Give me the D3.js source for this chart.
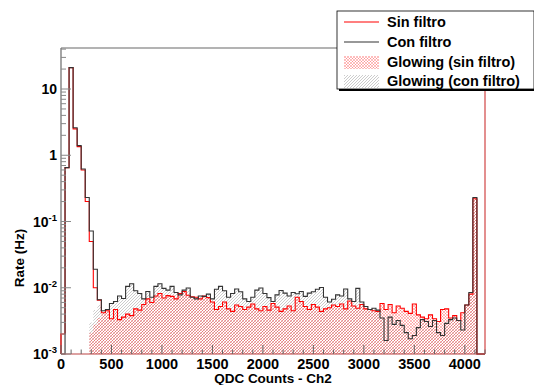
<!DOCTYPE html>
<html>
<head>
<meta charset="utf-8">
<script src="https://cdn.jsdelivr.net/npm/d3@7/dist/d3.min.js"></script>
<style>
  html, body { margin: 0; padding: 0; background: #fff; }
  svg { display: block; }
  text { font-family: "Liberation Sans", Arial, Helvetica, sans-serif; font-weight: bold; fill: #000; }
</style>
</head>
<body>
<svg id="chart" width="534" height="385"></svg>
<script>
// QDC spectrum, channel 2: 105 bins of 40 counts from 0 to 4200
const binWidth = 40;
const xMin = 0, xMax = 4200;
const yMin = 1e-3, yMax = 41.6;

// Rate (Hz) per bin, without filter
const sinFiltro = [
  0.002, 0.65, 21, 2.5, 1.35, 0.6, 0.2, 0.05, 0.01, 0.0065,
  0.0042, 0.0045, 0.0034, 0.0047, 0.0033, 0.0036, 0.004, 0.0038, 0.0048, 0.0046,
  0.0056, 0.0068, 0.006, 0.0075, 0.0082, 0.007, 0.0076, 0.0074, 0.0068, 0.0082,
  0.0088, 0.0077, 0.0073, 0.0072, 0.0068, 0.0075, 0.0071, 0.0061, 0.0047, 0.0052,
  0.0061, 0.0048, 0.0044, 0.0055, 0.0052, 0.0047, 0.0051, 0.0057, 0.0048, 0.0045,
  0.0052, 0.0046, 0.0058, 0.0051, 0.0044, 0.0048, 0.0053, 0.0045, 0.0072, 0.0062,
  0.0052, 0.0047, 0.0056, 0.0051, 0.0044, 0.0048, 0.005, 0.0055, 0.0052, 0.0057,
  0.0048, 0.0063, 0.0053, 0.0049, 0.0056, 0.0048, 0.0047, 0.0045, 0.0044, 0.0058,
  0.0047, 0.0056, 0.0042, 0.0053, 0.0049, 0.0044, 0.0041, 0.0057, 0.0039, 0.0036,
  0.0034, 0.0039, 0.0034, 0.0031, 0.0047, 0.0048, 0.0035, 0.0038, 0.0032, 0.0042,
  0.0055, 0.008, 0.22, 0, 0
];

// Rate (Hz) per bin, with filter
const conFiltro = [
  0, 0.65, 21, 2.6, 1.4, 0.62, 0.23, 0.072, 0.019, 0.0066,
  0.0045, 0.0047, 0.0058, 0.0062, 0.0075, 0.0069, 0.0105, 0.0115, 0.009, 0.0082,
  0.0068, 0.0088, 0.0072, 0.0105, 0.0115, 0.0098, 0.0092, 0.0105, 0.0085, 0.0078,
  0.0092, 0.0099, 0.0072, 0.0068, 0.0075, 0.0074, 0.008, 0.0068, 0.0095, 0.0105,
  0.009, 0.0072, 0.0082, 0.0096, 0.0087, 0.0068, 0.0062, 0.0072, 0.0092, 0.0099,
  0.0082, 0.0071, 0.0062, 0.0078, 0.0091, 0.0083, 0.0075, 0.0085, 0.0081, 0.0088,
  0.0074, 0.0083, 0.0087, 0.0095, 0.0101, 0.0072, 0.0061, 0.0067, 0.0078, 0.0075,
  0.0096, 0.0068, 0.0062, 0.0098, 0.0061, 0.0052, 0.0047, 0.0049, 0.0046, 0.0035,
  0.0016, 0.0036, 0.0028, 0.0032, 0.0027, 0.0021, 0.0017, 0.0019, 0.0025, 0.0033,
  0.0031, 0.0026, 0.0032, 0.0021, 0.0019, 0.0029, 0.0033, 0.0035, 0.0032, 0.0023,
  0.0055, 0.0085, 0.23, 0, 0
];

// Glowing component: first bins of its own, then it follows the full spectrum
const glowFirstBin = 7, glowLastBin = 102;
const glowSinHead = [0.0021, 0.0028, 0.0035];
const glowConHead = [0.003, 0.0046, 0.0055];

const xTicks = [0, 500, 1000, 1500, 2000, 2500, 3000, 3500, 4000];
const yTicks = [1e-3, 1e-2, 1e-1, 1, 10];
const yTickLabels = [["10", "-3"], ["10", "-2"], ["10", "-1"], ["1", ""], ["10", ""]];
const legendLabels = ["Sin filtro", "Con filtro", "Glowing (sin filtro)", "Glowing (con filtro)"];

const glowSin = glowSinHead.concat(sinFiltro.slice(glowFirstBin + glowSinHead.length, glowLastBin + 1));
const glowCon = glowConHead.concat(conFiltro.slice(glowFirstBin + glowConHead.length, glowLastBin + 1));

const svg = d3.select("#chart");
const frame = { left: 61, right: 485, top: 48, bottom: 354 };

const x = d3.scaleLinear().domain([xMin, xMax]).range([frame.left, frame.right]);
const y = d3.scaleLog().domain([yMin, yMax]).range([frame.bottom, frame.top]).clamp(true);
const yv = v => y(v > yMin ? v : yMin);

// hatch patterns
const defs = svg.append("defs");
const pRed = defs.append("pattern").attr("id", "hatchRed")
  .attr("patternUnits", "userSpaceOnUse").attr("width", 3).attr("height", 3);
pRed.append("path").attr("d", "M-1,1 L1,-1 M0,3 L3,0 M2,4 L4,2 M-1,2 L1,4 M0,0 L3,3 M2,-1 L4,1")
  .attr("stroke", "#f22").attr("stroke-opacity", 0.75).attr("stroke-width", 0.4).attr("fill", "none");
const pGrey = defs.append("pattern").attr("id", "hatchGrey")
  .attr("patternUnits", "userSpaceOnUse").attr("width", 3).attr("height", 3);
pGrey.append("path").attr("d", "M-1,1 L1,-1 M0,3 L3,0 M2,4 L4,2")
  .attr("stroke", "#8c8c8c").attr("stroke-width", 0.45).attr("fill", "none");

// step outline of a histogram
function stepLine(vals, first) {
  let d = `M${x(first * binWidth)},${y(yMin)}`;
  vals.forEach((v, i) => {
    const x0 = x((first + i) * binWidth), x1 = x((first + i + 1) * binWidth);
    d += `L${x0},${yv(v)}L${x1},${yv(v)}`;
  });
  d += `L${x((first + vals.length) * binWidth)},${y(yMin)}`;
  return d;
}

// glowing areas
svg.append("path").attr("d", stepLine(glowCon, glowFirstBin) + "Z")
  .attr("fill", "url(#hatchGrey)").attr("stroke", "none");
svg.append("path").attr("d", stepLine(glowSin, glowFirstBin) + "Z")
  .attr("fill", "url(#hatchRed)").attr("stroke", "none");

// frame top/left
svg.append("line").attr("x1", frame.left).attr("x2", frame.right).attr("y1", frame.top).attr("y2", frame.top)
  .attr("stroke", "#9a9a9a").attr("stroke-width", 1.3);
svg.append("line").attr("x1", frame.left).attr("x2", frame.left).attr("y1", frame.top).attr("y2", frame.bottom)
  .attr("stroke", "#6a6a6a").attr("stroke-width", 1.2);

// full spectra
svg.append("path").attr("d", stepLine(sinFiltro, 0))
  .attr("fill", "none").attr("stroke", "#f00").attr("stroke-width", 1.1);
svg.append("path").attr("d", stepLine(conFiltro, 0))
  .attr("fill", "none").attr("stroke", "#333").attr("stroke-width", 1.1);
// right frame edge carries the red spectrum colour
svg.append("line").attr("x1", frame.right).attr("x2", frame.right).attr("y1", frame.top).attr("y2", frame.bottom)
  .attr("stroke", "#c33").attr("stroke-width", 1.1);
svg.append("line").attr("x1", frame.left).attr("x2", frame.right).attr("y1", frame.bottom).attr("y2", frame.bottom)
  .attr("stroke", "#b44").attr("stroke-width", 1.1);

// x axis ticks
const xMinor = d3.range(0, xMax + 1, 100);
svg.append("g").selectAll("line").data(xMinor).join("line")
  .attr("x1", d => x(d)).attr("x2", d => x(d))
  .attr("y1", frame.bottom).attr("y2", d => frame.bottom - (d % 500 === 0 ? 9 : 4.5))
  .attr("stroke", "#666").attr("stroke-width", 1);
svg.append("g").selectAll("text").data(xTicks).join("text")
  .attr("x", d => x(d)).attr("y", 369).attr("text-anchor", "middle")
  .attr("font-size", 14.5).text(d => d);

// y axis ticks
const yMinor = [];
for (let e = -3; e <= 1; e++) for (let m = 1; m <= 9; m++) {
  const v = m * Math.pow(10, e);
  if (v >= yMin && v <= yMax) yMinor.push({ v, major: m === 1 });
}
svg.append("g").selectAll("line").data(yMinor).join("line")
  .attr("x1", frame.left).attr("x2", d => frame.left + (d.major ? 10 : 5))
  .attr("y1", d => y(d.v)).attr("y2", d => y(d.v))
  .attr("stroke", "#888").attr("stroke-width", 1);
const yl = svg.append("g").selectAll("text").data(yTicks).join("text")
  .attr("x", 57).attr("y", d => y(d) + 5).attr("text-anchor", "end").attr("font-size", 14);
yl.each(function (d, i) {
  const t = d3.select(this);
  const [base, sup] = yTickLabels[i];
  t.append("tspan").text(base);
  if (sup) t.append("tspan").attr("font-size", 9.5).attr("dy", -6).text(sup);
});

// axis titles
svg.append("text").attr("x", x(2100)).attr("y", 383).attr("text-anchor", "middle")
  .attr("font-size", 13.5).text("QDC Counts - Ch2");
svg.append("text").attr("transform", "translate(24,258) rotate(-90)").attr("text-anchor", "middle")
  .attr("font-size", 13.5).text("Rate (Hz)");

// legend
const lg = { x: 337, y: 11, w: 197, h: 78 };
svg.append("rect").attr("x", lg.x + 2).attr("y", lg.y + 2).attr("width", lg.w).attr("height", lg.h).attr("fill", "#000");
svg.append("rect").attr("x", lg.x).attr("y", lg.y).attr("width", lg.w).attr("height", lg.h)
  .attr("fill", "#fff").attr("stroke", "#000").attr("stroke-width", 0.8);
const rowY = [22, 42, 62, 81];
svg.append("line").attr("x1", 344).attr("x2", 379).attr("y1", rowY[0]).attr("y2", rowY[0]).attr("stroke", "#f00").attr("stroke-width", 1.2);
svg.append("line").attr("x1", 344).attr("x2", 379).attr("y1", rowY[1]).attr("y2", rowY[1]).attr("stroke", "#333").attr("stroke-width", 1.1);
svg.append("rect").attr("x", 344).attr("y", rowY[2] - 6).attr("width", 35).attr("height", 13).attr("fill", "url(#hatchRed)");
svg.append("rect").attr("x", 344).attr("y", rowY[3] - 6).attr("width", 35).attr("height", 13).attr("fill", "url(#hatchGrey)");
svg.append("g").selectAll("text").data(legendLabels).join("text")
  .attr("x", 387).attr("y", (d, i) => rowY[i] + 5).attr("font-size", 14.5).text(d => d);
</script>
</body>
</html>
